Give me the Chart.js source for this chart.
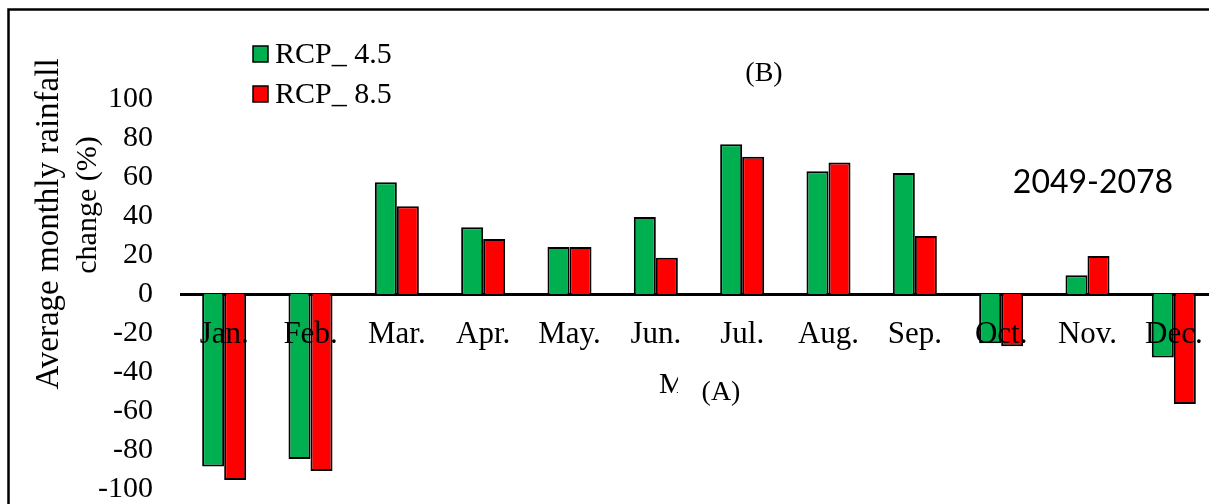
<!DOCTYPE html>
<html>
<head>
<meta charset="utf-8">
<script src="https://cdn.jsdelivr.net/npm/chart.js@4.4.1/dist/chart.umd.min.js"></script>
<style>
  html, body { margin: 0; padding: 0; background: #fff; overflow: hidden; }
  #wrap { width: 1209px; height: 504px; overflow: hidden; }
</style>
</head>
<body>
<!-- grafik sag kenarda kesik: tuval pencereden biraz genis -->
<div id="wrap"><canvas id="myChart" width="1217" height="504"></canvas></div>
<script>
// Aylar ve seriler
const months = ['Jan.', 'Feb.', 'Mar.', 'Apr.', 'May.', 'Jun.', 'Jul.', 'Aug.', 'Sep.', 'Oct.', 'Nov.', 'Dec.'];
const rcp45 = [-88.5, -84.6, 57.3, 34.2, 24.1, 39.5, 76.8, 62.9, 62.0, -25.3, 9.6, -32.6];
const rcp85 = [-95.4, -90.8, 45.0, 28.2, 24.1, 18.6, 70.4, 67.5, 29.7, -26.8, 19.5, -56.4];
const seriesNames = ['RCP_ 4.5', 'RCP_ 8.5'];
const seriesColors = ['#00B050', '#FF0000'];
const yMin = -100, yMax = 100, yStep = 20;

const serif = '"Liberation Serif", "Times New Roman", serif';

// cerceve, eksen basligi, lejant ve notlar
const extras = {
  id: 'extras',
  beforeDraw(chart) {
    const ctx = chart.ctx;
    ctx.save();
    ctx.fillStyle = '#fff';
    ctx.fillRect(0, 0, chart.width, chart.height);
    ctx.strokeStyle = '#000';
    ctx.lineWidth = 2.5;
    ctx.beginPath();
    ctx.moveTo(8.5, chart.height);
    ctx.lineTo(8.5, 9.5);
    ctx.lineTo(chart.width, 9.5);
    ctx.stroke();
    ctx.restore();
  },
  afterDraw(chart) {
    const ctx = chart.ctx;
    ctx.save();
    ctx.fillStyle = '#000';

    // y ekseni basligi
    ctx.textAlign = 'center';
    ctx.textBaseline = 'middle';
    ctx.save();
    ctx.font = '33px ' + serif;
    ctx.translate(49, 224);
    ctx.rotate(-Math.PI / 2);
    ctx.fillText('Average monthly rainfall', 0, 0);
    ctx.restore();
    ctx.save();
    ctx.font = '30px ' + serif;
    ctx.translate(88, 205);
    ctx.rotate(-Math.PI / 2);
    ctx.fillText('change (%)', 0, 0);
    ctx.restore();

    // lejant
    chart.data.datasets.forEach((ds, i) => {
      const y = 54 + i * 40;
      ctx.fillStyle = ds.backgroundColor;
      ctx.fillRect(253, y - 8, 15, 16);
      ctx.strokeStyle = '#000';
      ctx.lineWidth = 1.5;
      ctx.strokeRect(253, y - 8, 15, 16);
      ctx.fillStyle = '#000';
      ctx.font = '30px ' + serif;
      ctx.textAlign = 'left';
      ctx.textBaseline = 'middle';
      ctx.fillText(ds.label, 275, y + 1);
    });

    // notlar
    ctx.textAlign = 'center';
    ctx.textBaseline = 'middle';
    ctx.font = '28px ' + serif;
    ctx.fillText('(B)', 764, 74);
    ctx.fillText('(A)', 721, 393);

    ctx.font = '32px Lato, "Open Sans", sans-serif';
    ctx.fillText('2049-2078', 1093, 183);

    // kesik "Month" basligi
    ctx.save();
    ctx.beginPath();
    ctx.rect(640, 360, 38, 50);
    ctx.clip();
    ctx.font = '30px ' + serif;
    ctx.textAlign = 'left';
    ctx.textBaseline = 'alphabetic';
    ctx.fillText('Month', 659, 393);
    ctx.restore();

    ctx.restore();
  }
};

const ctx = document.getElementById('myChart').getContext('2d');
new Chart(ctx, {
  type: 'bar',
  data: {
    labels: months,
    datasets: [
      { label: seriesNames[0], data: rcp45, backgroundColor: seriesColors[0], borderColor: '#000', borderWidth: 2 },
      { label: seriesNames[1], data: rcp85, backgroundColor: seriesColors[1], borderColor: '#000', borderWidth: 2 }
    ]
  },
  options: {
    responsive: false,
    animation: false,
    devicePixelRatio: 1,
    categoryPercentage: 0.51,
    barPercentage: 1.0,
    layout: { padding: { left: 0, top: 99, right: 0, bottom: 15 } },
    plugins: {
      legend: { display: false },
      tooltip: { enabled: false }
    },
    scales: {
      x: {
        position: { y: 0 },
        afterFit(scale) {
          scale.height = 0;
          scale.paddingLeft = 0;
          scale.paddingRight = 0;
        },
        grid: { display: false, drawTicks: false },
        border: { display: true, color: '#000', width: 3 },
        ticks: {
          z: 1, // etiketler cubuklarin ustunde
          color: '#000',
          font: { family: serif, size: 31 },
          padding: 22,
          autoSkip: false,
          maxRotation: 0
        }
      },
      y: {
        min: yMin,
        max: yMax,
        afterFit(scale) {
          scale.width = 181;
          scale.paddingTop = 15;
          scale.paddingBottom = 15;
        },
        grid: { display: false, drawTicks: false },
        border: { display: false },
        ticks: {
          stepSize: yStep,
          color: '#000',
          font: { family: serif, size: 30 },
          padding: 28
        }
      }
    }
  },
  plugins: [extras]
});
</script>
</body>
</html>
